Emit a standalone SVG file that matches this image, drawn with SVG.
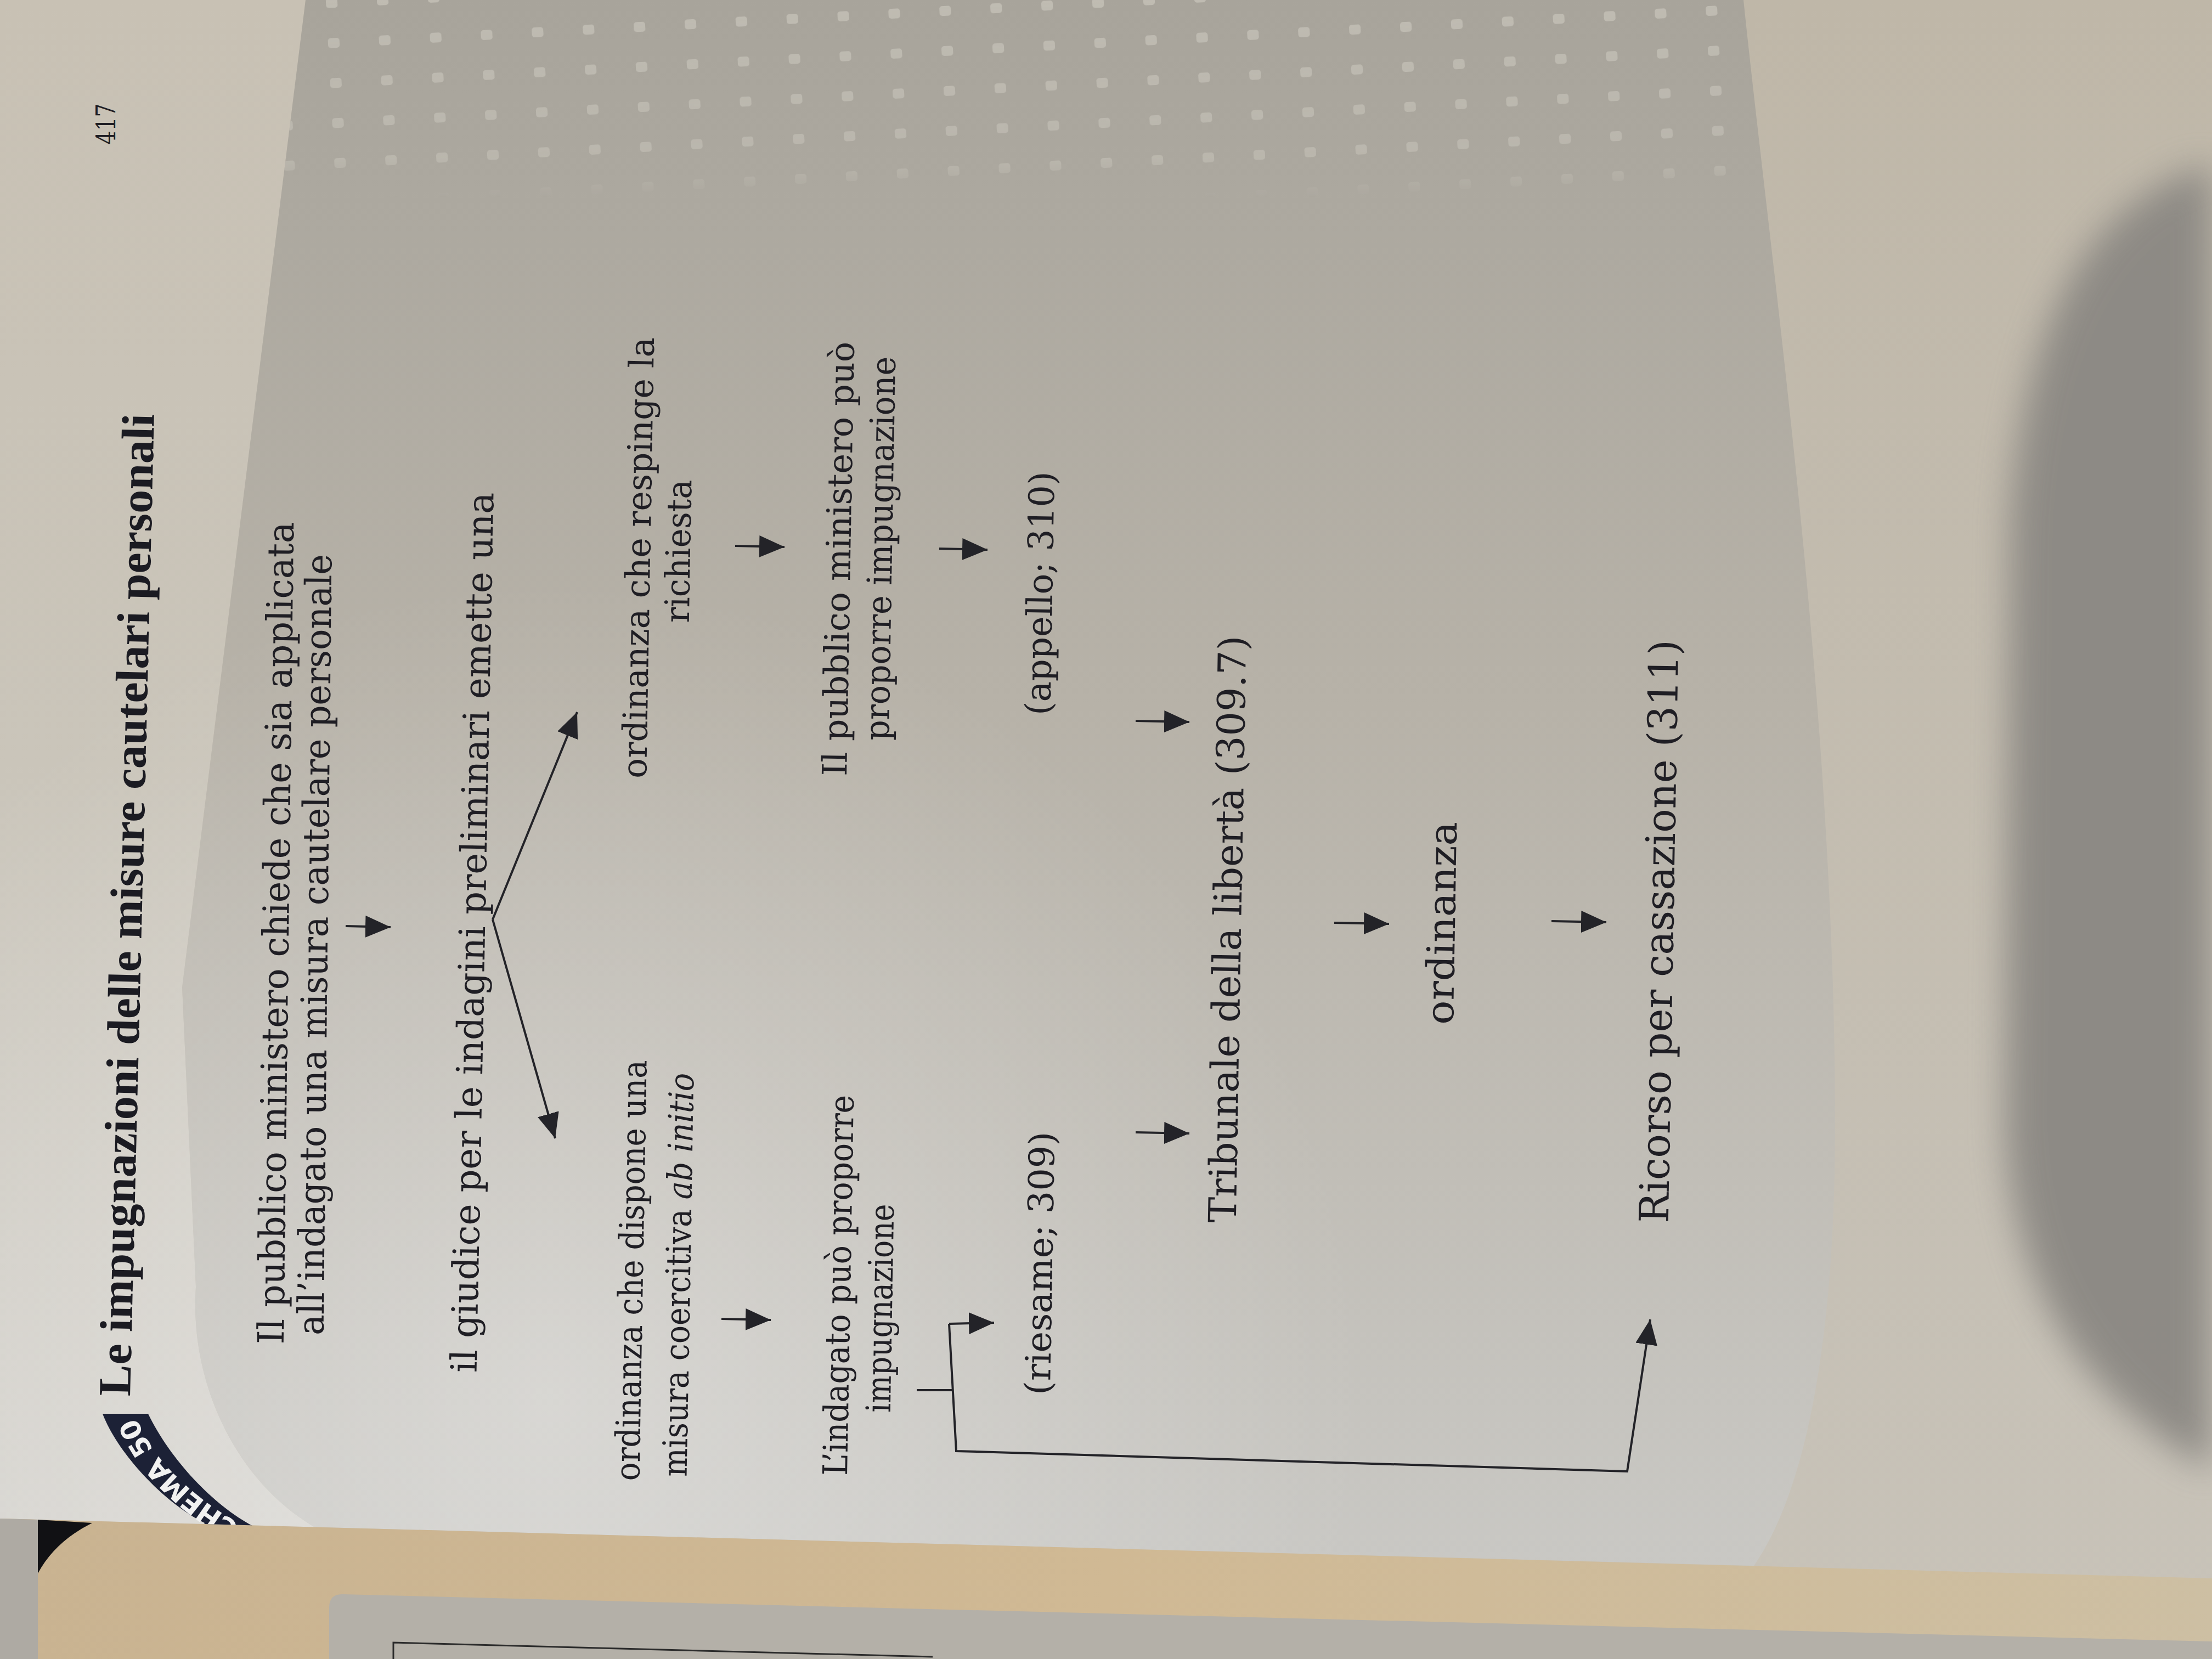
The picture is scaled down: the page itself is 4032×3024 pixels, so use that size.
<svg xmlns="http://www.w3.org/2000/svg" width="4032" height="3024" viewBox="0 0 4032 3024">
  <defs>
    <style>
      .t { font-family: "DejaVu Serif", "Liberation Serif", serif; fill: #1f1e24; }
      .title { font-family: "Liberation Serif", "DejaVu Serif", serif; font-weight: bold; fill: #1b1b22; }
      .badge-text { font-family: "DejaVu Sans", "Liberation Sans", sans-serif; font-weight: bold; fill: #f1f1f1; }
      .conn { stroke: #232328; stroke-width: 4; fill: none; stroke-linejoin: miter; }
    </style>
    <marker id="head" markerUnits="userSpaceOnUse" markerWidth="46" markerHeight="40" viewBox="0 0 46 40" refX="46" refY="20" orient="auto">
      <path d="M0,0 L46,20 L0,40 Z" fill="#232328"/>
    </marker>
    <linearGradient id="baseFill" x1="0" y1="0" x2="0" y2="1">
      <stop offset="0" stop-color="#bfb7a8"/>
      <stop offset="1" stop-color="#c8c3b9"/>
    </linearGradient>
    <linearGradient id="marginFill" x1="0" y1="0" x2="0" y2="1">
      <stop offset="0" stop-color="#c8c1b4"/>
      <stop offset="0.5" stop-color="#cac5ba"/>
      <stop offset="1" stop-color="#d6d4cf"/>
    </linearGradient>
    <linearGradient id="boxFill" x1="0" y1="0" x2="0" y2="1">
      <stop offset="0" stop-color="#a8a49b"/>
      <stop offset="0.12" stop-color="#aca89f"/>
      <stop offset="0.45" stop-color="#b7b2a8"/>
      <stop offset="0.75" stop-color="#c1beb7"/>
      <stop offset="1" stop-color="#c9c8c4"/>
    </linearGradient>
    <radialGradient id="glow" cx="1000" cy="2550" r="1500" gradientUnits="userSpaceOnUse">
      <stop offset="0" stop-color="#ffffff" stop-opacity="0.32"/>
      <stop offset="1" stop-color="#ffffff" stop-opacity="0"/>
    </radialGradient>
    <linearGradient id="tanFill" x1="0" y1="0" x2="1" y2="0">
      <stop offset="0" stop-color="#c9b391"/>
      <stop offset="0.5" stop-color="#d0b994"/>
      <stop offset="1" stop-color="#cdbfa3"/>
    </linearGradient>
    <linearGradient id="dotFade" x1="0" y1="0" x2="0" y2="1">
      <stop offset="0" stop-color="#fff" stop-opacity="1"/>
      <stop offset="0.8" stop-color="#fff" stop-opacity="0.7"/>
      <stop offset="1" stop-color="#fff" stop-opacity="0"/>
    </linearGradient>
    <pattern id="dots" patternUnits="userSpaceOnUse" width="93" height="73" patternTransform="rotate(-3)">
      <rect x="35" y="28" width="21" height="18" rx="5" fill="#cfcbc2" opacity="0.6"/>
    </pattern>
    <mask id="dotMask">
      <rect x="0" y="0" width="4032" height="360" fill="url(#dotFade)"/>
    </mask>
    <clipPath id="pageClip">
      <polygon points="0,0 4032,0 4032,2877 0,2768"/>
    </clipPath>
    <clipPath id="boxClip">
      <path d="M557,0 L3178,0 C3230,500 3345,1300 3345,2050 C3345,2450 3290,2720 3197,2854 L574,2784 C430,2700 345,2520 357,2346 L332,1800 Z"/>
    </clipPath>
    <filter id="soft" x="-50%" y="-20%" width="200%" height="140%">
      <feGaussianBlur stdDeviation="32"/>
    </filter>
  </defs>

  <!-- paper and surroundings -->
  <rect x="0" y="0" width="4032" height="3024" fill="url(#baseFill)"/>
  <path d="M0,0 L557,0 L332,1800 L357,2346 C345,2520 430,2700 574,2784 L0,2768 Z" fill="url(#marginFill)"/>
  <path d="M557,0 L3178,0 C3230,500 3345,1300 3345,2050 C3345,2450 3290,2720 3197,2854 L574,2784 C430,2700 345,2520 357,2346 L332,1800 Z" fill="url(#boxFill)"/>
  <g clip-path="url(#boxClip)">
    <rect x="500" y="0" width="2750" height="360" fill="url(#dots)" mask="url(#dotMask)"/>
  </g>
  <path d="M4032,300 C3820,360 3690,560 3665,950 L3655,2050 C3665,2330 3780,2540 4032,2680 Z" fill="#8b8883" opacity="0.95" filter="url(#soft)"/>
  <rect x="0" y="0" width="4032" height="3024" fill="url(#glow)" clip-path="url(#pageClip)"/>

  <!-- below the page edge -->
  <polygon points="0,2768 4032,2877 4032,3024 0,3024" fill="url(#tanFill)"/>
  <polygon points="0,2768 69,2770 69,3024 0,3024" fill="#aeaaa3"/>
  <path d="M600,2930 Q600,2905 625,2906 L4032,2992 L4032,3024 L600,3024 Z" fill="#b4b0a8"/>
  <path d="M717,3024 L717,2994 L1700,3020" fill="none" stroke="#2b2b2b" stroke-width="3"/>
  <path d="M69,2770 L168,2776 Q100,2810 69,2868 Z" fill="#111114"/>

  <!-- page number -->
  <g id="page-number">
    <text class="t" transform="translate(210,226) rotate(-90)" text-anchor="middle" font-size="48" textLength="75" lengthAdjust="spacingAndGlyphs">417</text>
  </g>

  <!-- heading -->
  <g id="badge" clip-path="url(#pageClip)">
    <path d="M187,2577 L270,2577 C310,2660 390,2745 462,2782 L470,2810 L360,2810 L373,2776 C300,2740 215,2650 187,2577 Z" fill="#1c2136"/>
    <path id="badgeLine" d="M470,2815 C380,2770 265,2690 228,2577" fill="none"/>
    <text class="badge-text" font-size="50" dominant-baseline="central"><textPath href="#badgeLine" startOffset="96%" text-anchor="end">SCHEMA 50</textPath></text>
  </g>
  <g id="title">
    <text class="title" transform="translate(259,1650) rotate(-88.6)" text-anchor="middle" font-size="84" textLength="1791" lengthAdjust="spacingAndGlyphs">Le impugnazioni delle misure cautelari personali</text>
  </g>

  <!-- diagram nodes -->
  <g id="node-richiesta">
    <text class="t" transform="translate(526,1701) rotate(-89.3)" text-anchor="middle" font-size="66" textLength="1499" lengthAdjust="spacingAndGlyphs">Il pubblico ministero chiede che sia applicata</text>
    <text class="t" transform="translate(597,1722) rotate(-89.4)" text-anchor="middle" font-size="66" textLength="1424" lengthAdjust="spacingAndGlyphs">all’indagato una misura cautelare personale</text>
  </g>
  <g id="node-gip">
    <text class="t" transform="translate(884,1700) rotate(-88.9)" text-anchor="middle" font-size="66" textLength="1605" lengthAdjust="spacingAndGlyphs">il giudice per le indagini preliminari emette una</text>
  </g>
  <g id="node-ordinanza-dispone">
    <text class="t" transform="translate(1172,2316) rotate(-89)" text-anchor="middle" font-size="62" textLength="767" lengthAdjust="spacingAndGlyphs">ordinanza che dispone una</text>
    <text class="t" transform="translate(1258,2324) rotate(-89)" text-anchor="middle" font-size="62" textLength="736" lengthAdjust="spacingAndGlyphs">misura coercitiva <tspan font-style="italic">ab initio</tspan></text>
  </g>
  <g id="node-indagato">
    <text class="t" transform="translate(1550,2343) rotate(-89)" text-anchor="middle" font-size="62" textLength="694" lengthAdjust="spacingAndGlyphs">L’indagato può proporre</text>
    <text class="t" transform="translate(1626,2385) rotate(-89)" text-anchor="middle" font-size="62" textLength="380" lengthAdjust="spacingAndGlyphs">impugnazione</text>
  </g>
  <g id="node-riesame">
    <text class="t" transform="translate(1918,2303) rotate(-89)" text-anchor="middle" font-size="64" textLength="480" lengthAdjust="spacingAndGlyphs">(riesame; 309)</text>
  </g>
  <g id="node-ordinanza-respinge">
    <text class="t" transform="translate(1185,1017) rotate(-89)" text-anchor="middle" font-size="62" textLength="804" lengthAdjust="spacingAndGlyphs">ordinanza che respinge la</text>
    <text class="t" transform="translate(1258,1005) rotate(-89)" text-anchor="middle" font-size="62" textLength="261" lengthAdjust="spacingAndGlyphs">richiesta</text>
  </g>
  <g id="node-pm">
    <text class="t" transform="translate(1550,1019) rotate(-89)" text-anchor="middle" font-size="62" textLength="792" lengthAdjust="spacingAndGlyphs">Il pubblico ministero può</text>
    <text class="t" transform="translate(1626,1000) rotate(-89)" text-anchor="middle" font-size="62" textLength="700" lengthAdjust="spacingAndGlyphs">proporre impugnazione</text>
  </g>
  <g id="node-appello">
    <text class="t" transform="translate(1918,1082) rotate(-89)" text-anchor="middle" font-size="64" textLength="444" lengthAdjust="spacingAndGlyphs">(appello; 310)</text>
  </g>
  <g id="node-tribunale">
    <text class="t" transform="translate(2262,1694) rotate(-89)" text-anchor="middle" font-size="70" textLength="1070" lengthAdjust="spacingAndGlyphs">Tribunale della libertà (309.7)</text>
  </g>
  <g id="node-ordinanza">
    <text class="t" transform="translate(2652,1683) rotate(-89)" text-anchor="middle" font-size="70" textLength="370" lengthAdjust="spacingAndGlyphs">ordinanza</text>
  </g>
  <g id="node-ricorso">
    <text class="t" transform="translate(3050,1698) rotate(-89)" text-anchor="middle" font-size="74" textLength="1063" lengthAdjust="spacingAndGlyphs">Ricorso per cassazione (311)</text>
  </g>

  <!-- connectors -->
  <g id="connectors">
    <line class="conn" x1="630" y1="1688" x2="712" y2="1690" marker-end="url(#head)"/>
    <line class="conn" x1="898" y1="1676" x2="1052" y2="1298" marker-end="url(#head)"/>
    <line class="conn" x1="898" y1="1676" x2="1012" y2="2075" marker-end="url(#head)"/>
    <line class="conn" x1="1315" y1="2404" x2="1405" y2="2406" marker-end="url(#head)"/>
    <line class="conn" x1="1340" y1="995" x2="1430" y2="997" marker-end="url(#head)"/>
    <line class="conn" x1="1712" y1="1000" x2="1800" y2="1002" marker-end="url(#head)"/>
    <line class="conn" x1="1671" y1="2534" x2="1736" y2="2534"/>
    <line class="conn" x1="1730" y1="2413" x2="1812" y2="2411" marker-end="url(#head)"/>
    <path class="conn" d="M1730,2413 L1743,2645 L2966,2682 L3008,2405" marker-end="url(#head)"/>
    <line class="conn" x1="2070" y1="2064" x2="2168" y2="2066" marker-end="url(#head)"/>
    <line class="conn" x1="2070" y1="1314" x2="2168" y2="1316" marker-end="url(#head)"/>
    <line class="conn" x1="2432" y1="1682" x2="2532" y2="1684" marker-end="url(#head)"/>
    <line class="conn" x1="2828" y1="1679" x2="2928" y2="1681" marker-end="url(#head)"/>
  </g>
</svg>
